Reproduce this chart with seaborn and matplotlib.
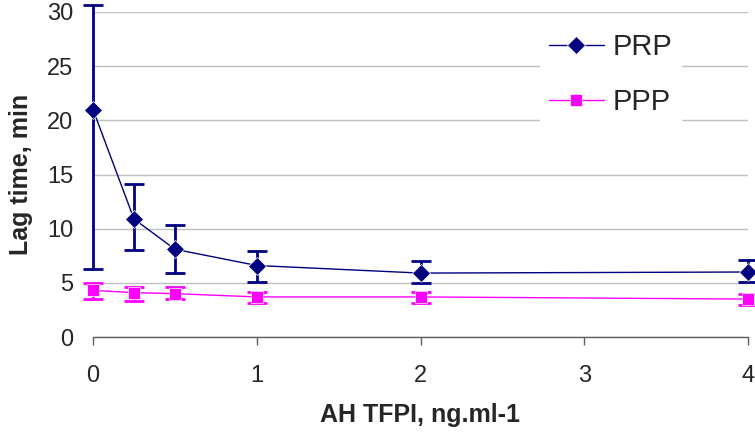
import numpy as np
import pandas as pd
import matplotlib
matplotlib.use("Agg")
import matplotlib.pyplot as plt
import seaborn as sns

# AH TFPI concentrations (ng/ml)
conc = [0, 0.25, 0.5, 1, 2, 4]

# lag time (min) with error bar ends
prp_mean = [21.0, 10.9, 8.1, 6.6, 5.9, 6.0]
prp_low = [6.3, 8.0, 5.9, 5.1, 5.0, 5.1]
prp_high = [30.6, 14.1, 10.3, 7.9, 7.0, 7.1]

ppp_mean = [4.3, 4.1, 4.0, 3.7, 3.7, 3.5]
ppp_low = [3.5, 3.3, 3.5, 3.1, 3.1, 3.0]
ppp_high = [4.95, 4.6, 4.6, 4.2, 4.2, 3.95]

series = ["PRP", "PPP"]
colors = {"PRP": "#000080", "PPP": "#FF00FF"}
markers = {"PRP": "D", "PPP": "s"}

sns.set_style("white")
plt.rcParams['font.family'] = ['Liberation Sans', 'DejaVu Sans']

df = pd.DataFrame({
    "conc": conc * 2,
    "lag": prp_mean + ppp_mean,
    "series": ["PRP"] * len(conc) + ["PPP"] * len(conc),
})

fig = plt.figure(figsize=(7.55, 4.34), dpi=100)
ax = fig.add_axes([93 / 755, 1 - 337 / 434, 655 / 755, 325 / 434])

# error bars first, then the lines/markers on top
for name, mean, lo, hi in [("PRP", prp_mean, prp_low, prp_high),
                           ("PPP", ppp_mean, ppp_low, ppp_high)]:
    m = np.array(mean)
    yerr = [m - np.array(lo), np.array(hi) - m]
    eb = ax.errorbar(conc, mean, yerr=yerr, fmt="none", ecolor=colors[name],
                     elinewidth=2, capsize=7, capthick=2, zorder=3)
    for art in eb.lines[1] + eb.lines[2]:
        art.set_clip_on(False)

sns.lineplot(data=df, x="conc", y="lag", hue="series", style="series",
             hue_order=series, style_order=series, palette=colors,
             markers=markers, dashes=False, markersize=9, linewidth=1,
             markeredgewidth=0.5, ax=ax, zorder=4, clip_on=False)

ax.set_xlim(0, 4)
ax.set_ylim(0, 30)
ax.set_xticks([0, 1, 2, 3, 4])
ax.set_yticks([0, 5, 10, 15, 20, 25, 30])
ax.yaxis.grid(True, color="#c0c0c0", linewidth=1)
ax.set_axisbelow(True)

for side in ["left", "right", "top"]:
    ax.spines[side].set_visible(False)
ax.spines["bottom"].set_color("#606060")
ax.spines["bottom"].set_linewidth(1)

ax.tick_params(axis="x", direction="out", length=6, width=1, color="#606060",
               labelsize=17, pad=14, bottom=True)
ax.tick_params(axis="y", length=0, labelsize=17, pad=14)

ax.set_xlabel("AH TFPI, ng.ml-1", fontsize=18, fontweight="bold", labelpad=12)
ax.set_ylabel("Lag time, min", fontsize=18, fontweight="bold", labelpad=10)

ax.legend(loc="upper left", bbox_to_anchor=((540 - 93) / 655, (337 - 24) / 325),
          borderaxespad=0, fontsize=21, frameon=True, facecolor="white",
          edgecolor="white", framealpha=1, handlelength=1.9,
          handletextpad=0.3, labelspacing=0.95, borderpad=0.3, fancybox=False)

fig.savefig("out.png", dpi=100)
